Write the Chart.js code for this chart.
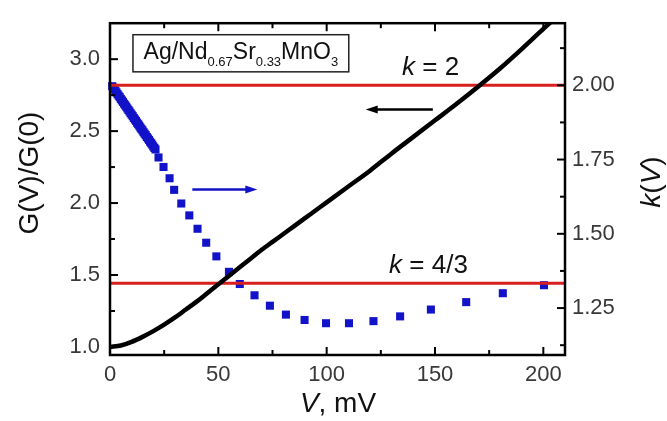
<!DOCTYPE html>
<html>
<head>
<meta charset="utf-8">
<script src="https://cdn.jsdelivr.net/npm/chart.js@4"></script>
<style>
  html, body { margin: 0; padding: 0; background: #fff; }
  #wrap { width: 667px; height: 421px; }
</style>
</head>
<body>
<div id="wrap"><canvas id="chart" width="667" height="421"></canvas></div>
<script>
// G(V)/G(0) curve (left axis)
const gV   = [0, 5, 10, 15, 20, 25, 30, 35, 40, 45, 50, 55, 60, 65, 70, 75, 80, 85, 90, 95, 100, 110, 120, 130, 140, 150, 160, 170, 180, 190, 200, 204, 208];
const gVal = [1.00, 1.01, 1.035, 1.07, 1.11, 1.155, 1.205, 1.26, 1.315, 1.375, 1.435, 1.495, 1.555, 1.615, 1.675, 1.73, 1.785, 1.84, 1.895, 1.95, 2.005, 2.115, 2.225, 2.345, 2.46, 2.575, 2.69, 2.81, 2.935, 3.07, 3.21, 3.265, 3.32];

// k(V) squares (right axis)
const kV   = [1, 1.5, 2, 2.5, 3, 3.5, 4, 4.5, 5, 5.5, 6, 6.5, 7, 7.5, 8, 8.5, 9, 9.5, 10, 10.5,
              11, 11.5, 12, 12.5, 13, 13.5, 14, 14.5, 15, 15.5, 16, 16.5, 17, 17.5, 18, 18.5, 19, 19.5, 20, 20.5, 21,
              22.4, 24.7, 27.5, 29.6, 32.9, 36.6, 40.4, 44.4, 49.1, 54.9, 59.9, 66.7, 73.8, 81.2, 89.8, 99.7, 110.3, 121.6, 133.9, 148.1, 164.4, 181.3, 200.3];
const kVal = [1.997, 1.992, 1.987, 1.981, 1.976, 1.970, 1.965, 1.960, 1.954, 1.949, 1.944, 1.938, 1.933, 1.928, 1.922, 1.917, 1.912, 1.906, 1.901, 1.896,
              1.890, 1.885, 1.880, 1.874, 1.869, 1.864, 1.858, 1.853, 1.848, 1.842, 1.837, 1.832, 1.826, 1.821, 1.816, 1.810, 1.805, 1.800, 1.794, 1.789, 1.784,
              1.757, 1.725, 1.687, 1.648, 1.602, 1.562, 1.517, 1.47, 1.424, 1.372, 1.331, 1.293, 1.258, 1.228, 1.21, 1.199, 1.199, 1.206, 1.222, 1.245, 1.27, 1.30, 1.327];

// reference levels of k
const kLevels = [2, 4 / 3];
const kLevelLabels = ["2", "4/3"];

// axes
const xRange = [0, 210];
const yLeftRange = [0.944, 3.25];
const yRightRange = [1.092, 2.209];
const xTicks = [0, 50, 100, 150, 200];
const xMinor = [25, 75, 125, 175];
const yLeftTicks = [1.0, 1.5, 2.0, 2.5, 3.0];
const yLeftMinor = [1.25, 1.75, 2.25, 2.75];
const yRightTicks = [1.25, 1.5, 1.75, 2.0];
const yRightMinor = [1.125, 1.375, 1.625, 1.875, 2.125];

const FONT = "'Liberation Sans', Arial, sans-serif";
const BLUE = "#1212c8";
const RED = "#d8201e";

function runs(ctx, parts, x, y, align) {
  // parts: [text, font, dy]
  let w = 0;
  parts.forEach(p => { ctx.font = p[1]; w += ctx.measureText(p[0]).width; });
  let cx = align === "center" ? x - w / 2 : x;
  parts.forEach(p => {
    ctx.font = p[1];
    ctx.fillText(p[0], cx, y + (p[2] || 0));
    cx += ctx.measureText(p[0]).width;
  });
  return w;
}

function arrow(ctx, x1, x2, y, color) {
  const dir = Math.sign(x2 - x1);
  ctx.strokeStyle = color;
  ctx.fillStyle = color;
  ctx.lineWidth = 2.5;
  ctx.beginPath();
  ctx.moveTo(x1, y);
  ctx.lineTo(x2 - dir * 6, y);
  ctx.stroke();
  ctx.beginPath();
  ctx.moveTo(x2, y);
  ctx.lineTo(x2 - dir * 12, y - 4);
  ctx.lineTo(x2 - dir * 12, y + 4);
  ctx.closePath();
  ctx.fill();
}

const decor = {
  id: "decor",
  afterDatasetsDraw(chart) {
    const { ctx, chartArea: a, scales } = chart;
    const sx = scales.x, yl = scales.yL, yr = scales.yR;
    ctx.save();
    ctx.strokeStyle = "#000";
    ctx.lineWidth = 2;
    const line = (x1, y1, x2, y2) => { ctx.beginPath(); ctx.moveTo(x1, y1); ctx.lineTo(x2, y2); ctx.stroke(); };
    xTicks.forEach(v => { const p = sx.getPixelForValue(v); line(p, a.bottom, p, a.bottom - 8); line(p, a.top, p, a.top + 8); });
    xMinor.forEach(v => { const p = sx.getPixelForValue(v); line(p, a.bottom, p, a.bottom - 5); line(p, a.top, p, a.top + 5); });
    yLeftTicks.forEach(v => { const p = yl.getPixelForValue(v); line(a.left, p, a.left + 8, p); });
    yLeftMinor.forEach(v => { const p = yl.getPixelForValue(v); line(a.left, p, a.left + 5, p); });
    yRightTicks.forEach(v => { const p = yr.getPixelForValue(v); line(a.right, p, a.right - 8, p); });
    yRightMinor.forEach(v => { const p = yr.getPixelForValue(v); line(a.right, p, a.right - 5, p); });
    ctx.lineWidth = 2.5;
    ctx.strokeRect(a.left, a.top, a.right - a.left, a.bottom - a.top);

    // arrows
    arrow(ctx, sx.getPixelForValue(38), sx.getPixelForValue(68), yl.getPixelForValue(2.095), BLUE);
    arrow(ctx, sx.getPixelForValue(149), sx.getPixelForValue(118), yl.getPixelForValue(2.65), "#000");

    // k level labels
    ctx.fillStyle = "#111";
    ctx.textBaseline = "middle";
    const it = "italic 26px " + FONT, up = "26px " + FONT;
    runs(ctx, [["k", it], [" = " + kLevelLabels[0], up]], sx.getPixelForValue(148), yr.getPixelForValue(2.058), "center");
    runs(ctx, [["k", it], [" = " + kLevelLabels[1], up]], sx.getPixelForValue(147), yr.getPixelForValue(1.393), "center");

    // material box
    const bx1 = sx.getPixelForValue(10.6), bx2 = sx.getPixelForValue(110.2);
    const by1 = yl.getPixelForValue(3.17), by2 = yl.getPixelForValue(2.912);
    ctx.fillStyle = "#fff";
    ctx.fillRect(bx1, by1, bx2 - bx1, by2 - by1);
    ctx.strokeStyle = "#222";
    ctx.lineWidth = 1.5;
    ctx.strokeRect(bx1, by1, bx2 - bx1, by2 - by1);
    ctx.fillStyle = "#111";
    ctx.textBaseline = "alphabetic";
    const m = "23px " + FONT, s = "13px " + FONT;
    runs(ctx, [["Ag/Nd", m], ["0.67", s, 7], ["Sr", m], ["0.33", s, 7], ["MnO", m], ["3", s, 7]],
      (bx1 + bx2) / 2, (by1 + by2) / 2 + 6, "center");

    // axis titles
    ctx.fillStyle = "#111";
    ctx.textBaseline = "middle";
    const t = "28px " + FONT, ti = "italic 28px " + FONT;
    ctx.save();
    ctx.translate(30, 173);
    ctx.rotate(-Math.PI / 2);
    runs(ctx, [["G(V)/G(0)", t]], 0, 0, "center");
    ctx.restore();
    ctx.save();
    ctx.translate(652, 182);
    ctx.rotate(-Math.PI / 2);
    runs(ctx, [["k", ti], ["(", t], ["V", ti], [")", t]], 0, 0, "center");
    ctx.restore();
    runs(ctx, [["V", ti], [", mV", t]], 338, 404, "center");
    ctx.restore();
  }
};

const tickFont = { family: FONT, size: 22 };
const tickColor = "#383838";

new Chart(document.getElementById("chart"), {
  type: "scatter",
  data: {
    datasets: [
      {
        label: "G(V)/G(0)",
        data: gV.map((v, i) => ({ x: v, y: gVal[i] })),
        yAxisID: "yL",
        showLine: true,
        borderColor: "#000",
        borderWidth: 4.5,
        pointRadius: 0,
        cubicInterpolationMode: "monotone"
      },
      ...kLevels.map(k => ({
        label: "k level",
        data: xRange.map(v => ({ x: v, y: k })),
        yAxisID: "yR",
        showLine: true,
        borderColor: RED,
        borderWidth: 3,
        pointRadius: 0
      })),
      {
        label: "k(V)",
        data: kV.map((v, i) => ({ x: v, y: kVal[i] })),
        yAxisID: "yR",
        pointStyle: "rect",
        pointRadius: 5.7,
        backgroundColor: BLUE,
        borderWidth: 0,
        clip: false
      }
    ]
  },
  options: {
    responsive: false,
    animation: false,
    layout: { padding: { top: 14 } },
    plugins: { legend: { display: false }, tooltip: { enabled: false } },
    scales: {
      x: {
        type: "linear", position: "bottom", min: xRange[0], max: xRange[1],
        grid: { display: false, drawTicks: false }, border: { display: false },
        afterBuildTicks: s => { s.ticks = xTicks.map(v => ({ value: v })); },
        afterFit: s => { s.height = 66; },
        ticks: { font: tickFont, color: tickColor, padding: 7, maxRotation: 0, callback: v => String(v) }
      },
      yL: {
        type: "linear", position: "left", min: yLeftRange[0], max: yLeftRange[1],
        grid: { display: false, drawTicks: false }, border: { display: false },
        afterBuildTicks: s => { s.ticks = yLeftTicks.map(v => ({ value: v })); },
        afterFit: s => { s.width = 110; },
        ticks: { font: tickFont, color: tickColor, padding: 10, callback: v => v.toFixed(1) }
      },
      yR: {
        type: "linear", position: "right", min: yRightRange[0], max: yRightRange[1],
        grid: { display: false, drawTicks: false }, border: { display: false },
        afterBuildTicks: s => { s.ticks = yRightTicks.map(v => ({ value: v })); },
        afterFit: s => { s.width = 102; },
        ticks: { font: tickFont, color: tickColor, padding: 7, callback: v => v.toFixed(2) }
      }
    }
  },
  plugins: [decor]
});
</script>
</body>
</html>
